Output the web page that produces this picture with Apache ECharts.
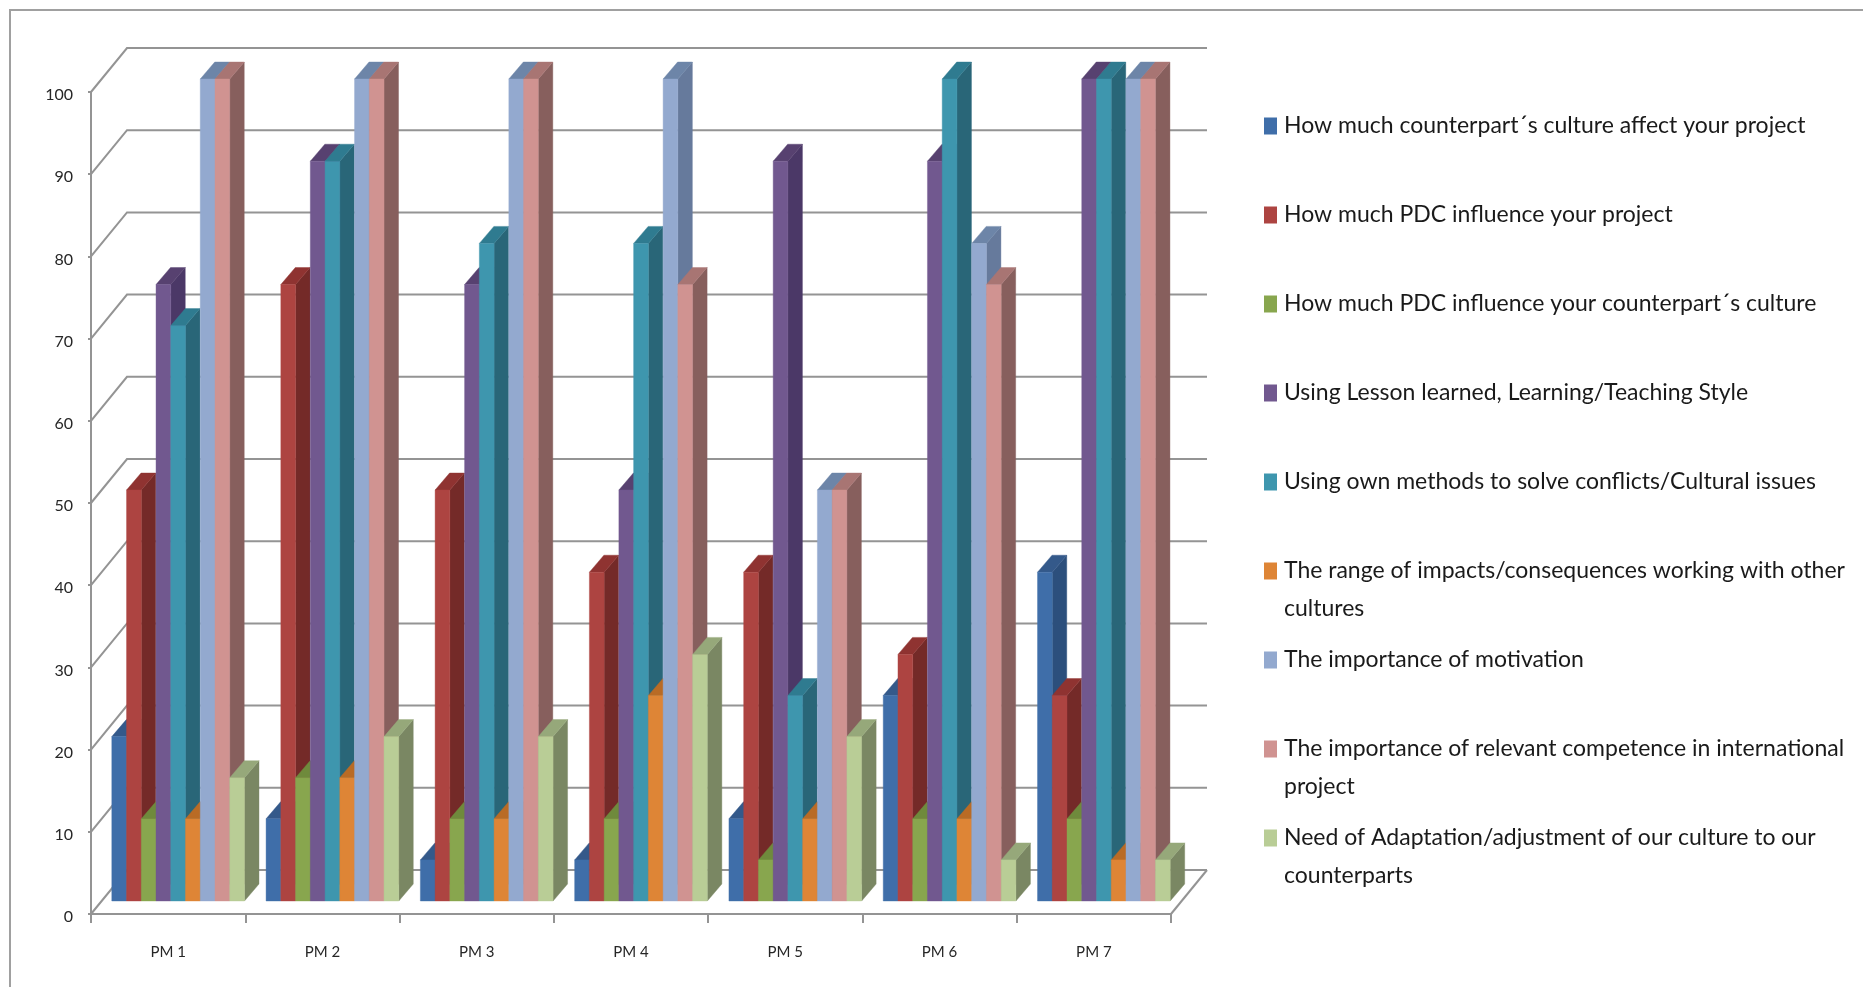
<!DOCTYPE html>
<html>
<head>
<meta charset="utf-8">
<style>html,body{margin:0;padding:0;background:#fff}#chart{width:1863px;height:987px}</style>
<script src="https://cdn.jsdelivr.net/npm/echarts@6/dist/echarts.min.js"></script>
</head>
<body>
<div id="chart"></div>
<script>
// Survey scores per project manager
const categories = ['PM 1', 'PM 2', 'PM 3', 'PM 4', 'PM 5', 'PM 6', 'PM 7'];
const yTicks = [0, 10, 20, 30, 40, 50, 60, 70, 80, 90, 100];

const counterpartCulture = [20, 10, 5, 5, 10, 25, 40];
const pdcOnProject = [50, 75, 50, 40, 40, 30, 25];
const pdcOnCulture = [10, 15, 10, 10, 5, 10, 10];
const lessonLearned = [75, 90, 75, 50, 90, 90, 100];
const ownMethods = [70, 90, 80, 80, 25, 100, 100];
const impactRange = [10, 15, 10, 25, 10, 10, 5];
const motivation = [100, 100, 100, 100, 50, 80, 100];
const competence = [100, 100, 100, 75, 50, 75, 100];
const adaptation = [15, 20, 20, 30, 20, 5, 5];

const seriesNames = [
  'How much counterpart´s culture affect your project',
  'How much PDC influence your project',
  'How much PDC influence your counterpart´s culture',
  'Using Lesson learned, Learning/Teaching Style',
  'Using own methods to solve conflicts/Cultural issues',
  'The range of impacts/consequences working with other\ncultures',
  'The importance of motivation',
  'The importance of relevant competence in international\nproject',
  'Need of Adaptation/adjustment of our culture to our\ncounterparts'
];
const seriesValues = [counterpartCulture, pdcOnProject, pdcOnCulture, lessonLearned, ownMethods,
  impactRange, motivation, competence, adaptation];

// front, top and side shades of each bar
const shades = [
  ['#3f6ea9', '#34598a', '#2c4f7c'],
  ['#ad4441', '#8f3331', '#742a28'],
  ['#88a64e', '#6f8a3c', '#667f38'],
  ['#71588f', '#574170', '#4b3867'],
  ['#3e96ae', '#2f7b90', '#296678'],
  ['#de8536', '#b96b25', '#b0651f'],
  ['#93a9cf', '#6d85a8', '#667a9c'],
  ['#d09391', '#a87573', '#875f5d'],
  ['#b9cd96', '#96a87a', '#7a8763']
];

const GRID_COLOR = '#949494';
const WALL = { dx: 36, dy: -44 };       // front plane to back wall
const BAR_PLANE = { dx: 10, dy: -13 };  // front plane to bar front faces
const BAR_DEPTH = { dx: 14.5, dy: -17 };
const CLUSTER_SHARE = 0.86;
const TEXT_FONT = 'Lato';

function polygon(points, fill) {
  return { type: 'polygon', silent: true, shape: { points }, style: { fill, stroke: fill, lineWidth: 0.4 } };
}

// Box with a front face, a top and a right side
function renderBar(seriesIndex, params, api) {
  const cat = api.value(0);
  const base = api.coord([cat, 0]);
  const top = api.coord([cat, api.value(1)]);
  const clusterW = api.size([1, 0])[0] * CLUSTER_SHARE;
  const w = clusterW / seriesNames.length;
  const x0 = base[0] + BAR_PLANE.dx - clusterW / 2 + seriesIndex * w;
  const x1 = x0 + w;
  const yb = base[1] + BAR_PLANE.dy;
  const yt = top[1] + BAR_PLANE.dy;
  const d = BAR_DEPTH;
  const [front, topFace, side] = shades[seriesIndex];
  return {
    type: 'group',
    children: [
      polygon([[x1, yb], [x1 + d.dx, yb + d.dy], [x1 + d.dx, yt + d.dy], [x1, yt]], side),
      polygon([[x0, yt], [x1, yt], [x1 + d.dx, yt + d.dy], [x0 + d.dx, yt + d.dy]], topFace),
      polygon([[x0, yb], [x1, yb], [x1, yt], [x0, yt]], front)
    ]
  };
}

// Side wall diagonal and back wall line for a single tick value
function renderWallLine(params, api) {
  const rect = params.coordSys;
  const y = api.coord([0, api.value(0)])[1];
  const left = rect.x;
  const right = rect.x + rect.width;
  const children = [{
    type: 'polyline',
    silent: true,
    shape: { points: [[left, y], [left + WALL.dx, y + WALL.dy], [right + WALL.dx, y + WALL.dy]] },
    style: { stroke: GRID_COLOR, lineWidth: 2, fill: null }
  }];
  if (api.value(0) === 0) {
    children.push({
      type: 'line',
      silent: true,
      shape: { x1: right, y1: y, x2: right + WALL.dx, y2: y + WALL.dy },
      style: { stroke: GRID_COLOR, lineWidth: 2 }
    });
  }
  return { type: 'group', children };
}

const LEGEND_X = 1264;
const LEGEND_FIRST_Y = 126;
const LEGEND_STEP = 89;
const LEGEND_LINE = 38;

// Wrapped names get a blank first line so the swatch sits beside their first line
const legends = seriesNames.map((name, i) => {
  const wrapped = name.includes('\n');
  const h = wrapped ? LEGEND_LINE * 3 : LEGEND_LINE;
  return {
    data: [name],
    orient: 'vertical',
    left: LEGEND_X,
    top: LEGEND_FIRST_Y + i * LEGEND_STEP - h / 2,
    padding: 0,
    itemWidth: 13,
    itemHeight: 17,
    itemGap: 0,
    selectedMode: false,
    icon: 'rect',
    formatter: (n) => (n.includes('\n') ? ' \n' + n : n),
    textStyle: {
      fontFamily: TEXT_FONT,
      fontSize: 23,
      lineHeight: LEGEND_LINE,
      color: '#1a1a1a',
      padding: [0, 0, 0, 2]
    }
  };
});

const chart = echarts.init(document.getElementById('chart'), null, { renderer: 'canvas' });
chart.setOption({
  animation: false,
  backgroundColor: '#ffffff',
  graphic: [{
    type: 'polyline',
    silent: true,
    z: -10,
    shape: { points: [[10, 987], [10, 10], [1863, 10]] },
    style: { stroke: '#a0a0a0', lineWidth: 2, fill: null }
  }],
  legend: legends,
  grid: { left: 91, top: 92, width: 1080, height: 822 },
  xAxis: {
    type: 'category',
    data: categories,
    boundaryGap: true,
    axisLine: { lineStyle: { color: GRID_COLOR, width: 2 } },
    axisTick: { show: true, alignWithLabel: false, length: 9, lineStyle: { color: GRID_COLOR, width: 2 } },
    axisLabel: { color: '#262626', fontFamily: TEXT_FONT, fontSize: 15, margin: 31, interval: 0 }
  },
  yAxis: {
    type: 'value',
    min: 0,
    max: 100,
    interval: 10,
    splitLine: { show: false },
    axisLine: { show: true, lineStyle: { color: GRID_COLOR, width: 2 } },
    axisTick: { show: true, length: 3, lineStyle: { color: GRID_COLOR, width: 2 } },
    axisLabel: { color: '#262626', fontFamily: TEXT_FONT, fontSize: 16, margin: 18, verticalAlign: 'top', padding: [-5, 0, 0, 0] }
  },
  series: [
    {
      type: 'custom',
      name: 'walls',
      coordinateSystem: 'cartesian2d',
      z: 1,
      silent: true,
      clip: false,
      encode: { y: 0 },
      data: yTicks.map((t) => [t]),
      renderItem: renderWallLine
    },
    ...seriesNames.map((name, s) => ({
      type: 'custom',
      name,
      coordinateSystem: 'cartesian2d',
      z: 2,
      clip: false,
      itemStyle: { color: shades[s][0] },
      encode: { x: 0, y: 1 },
      data: seriesValues[s].map((v, i) => [i, v]),
      renderItem: (params, api) => renderBar(s, params, api)
    }))
  ]
});
</script>
</body>
</html>
